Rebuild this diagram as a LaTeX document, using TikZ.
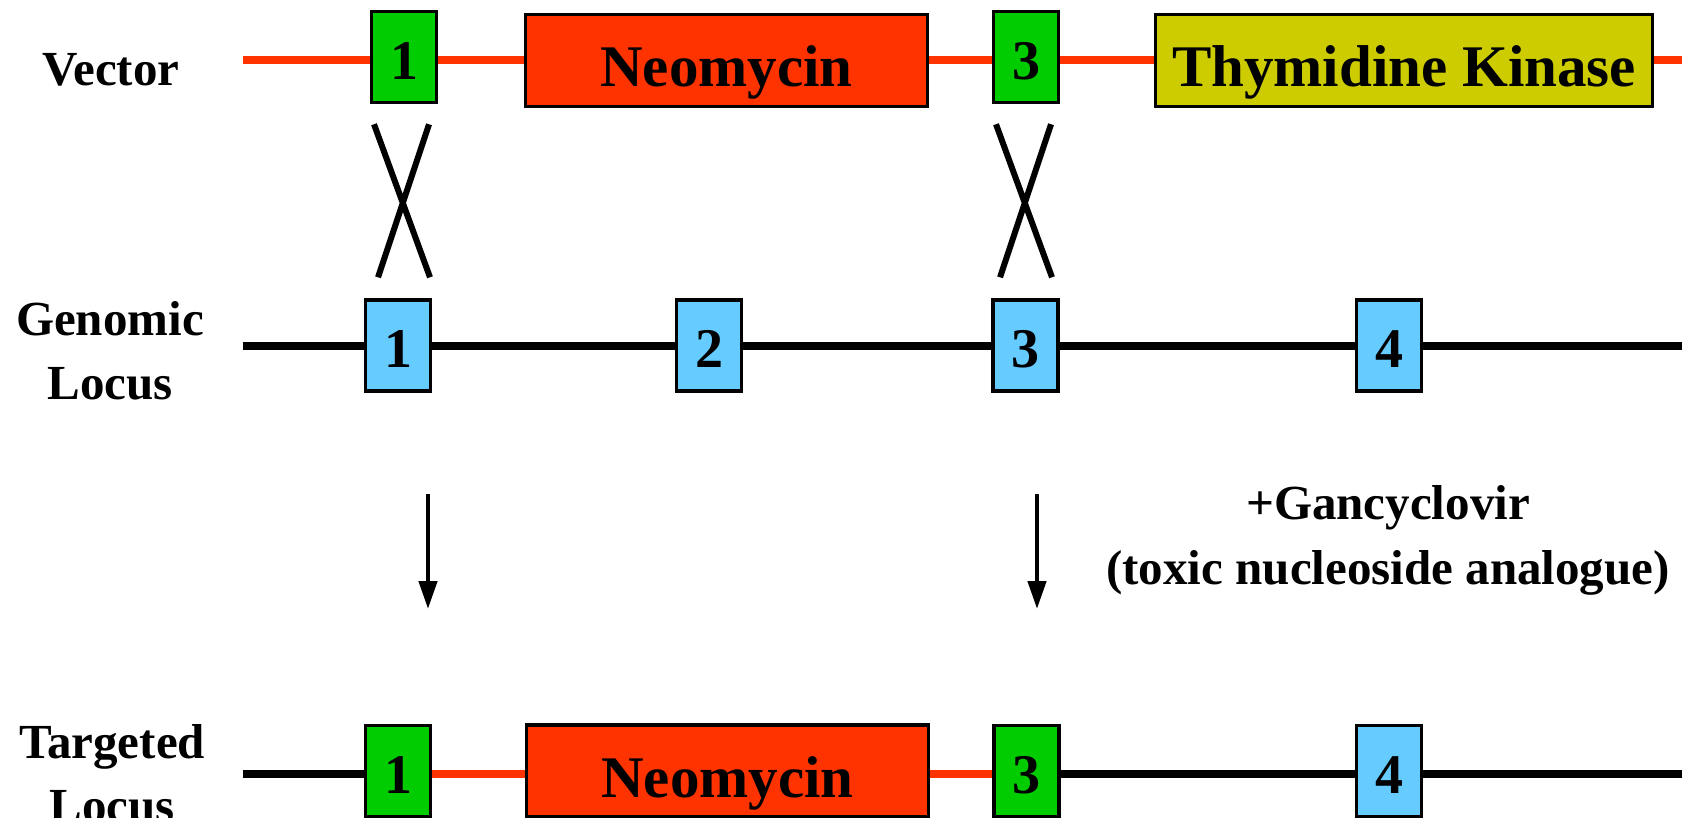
\documentclass[tikz,border=0pt]{standalone}
\usepackage{fontspec}
\setmainfont{Liberation Serif}
\usetikzlibrary{arrows.meta}
\definecolor{exongreen}{HTML}{00CC00}
\definecolor{neored}{HTML}{FF3300}
\definecolor{tkyellow}{HTML}{CCCC00}
\definecolor{exonblue}{HTML}{66CCFF}

\begin{document}
\begin{tikzpicture}[x=1pt,y=-1pt,
  box/.style={draw=black, line width=3.5pt, inner sep=0pt},
  exon/.style={box, minimum width=65pt, minimum height=91pt,
    text height=44pt, text depth=0pt,
    font=\bfseries\fontsize{56}{60}\selectfont},
  greenexon/.style={exon, fill=exongreen},
  blueexon/.style={exon, fill=exonblue},
  cassette/.style={box, minimum height=92pt,
    text height=52pt, text depth=0pt,
    font=\bfseries\fontsize{59}{62}\selectfont},
  neobox/.style={cassette, fill=neored, minimum width=402pt},
  tkbox/.style={cassette, fill=tkyellow, minimum width=497pt},
  rowlabel/.style={anchor=base, inner sep=0pt,
    font=\bfseries\fontsize{49}{65}\selectfont},
  redline/.style={draw=neored, line width=8pt},
  blackline/.style={draw=black, line width=8pt},
  crossline/.style={draw=black, line width=6pt},
  downarrow/.style={draw=black, line width=4.5pt,
    -{Triangle[width=18pt,length=28pt]}},
]
\path[use as bounding box] (0,0) rectangle (1682,817);

% ---- row labels ----
\node[rowlabel] (lvec) at (111,85) {Vector};
\node[rowlabel] (lgen1) at (110,335) {Genomic};
\node[rowlabel] (lgen2) at (110,399) {Locus};
\node[rowlabel] (ltar1) at (112,758) {Targeted};
\node[rowlabel] (ltar2) at (112,822) {Locus};

% ---- targeting vector ----
\coordinate (v0) at (243,60);
\coordinate (v1) at (1682,60);
\draw[redline] (v0) -- (v1);
\node[greenexon] (vg1) at (404,57) {1};
\node[neobox] (vneo) at (726.5,60.5) {Neomycin};
\node[greenexon] (vg3) at (1026,57) {3};
\node[tkbox] (vtk) at (1404,60.5) {Thymidine Kinase};

% ---- genomic locus ----
\coordinate (g0) at (243,346);
\coordinate (g1end) at (1682,346);
\draw[blackline] (g0) -- (g1end);
\node[blueexon] (gb1) at (398,345.5) {1};
\node[blueexon] (gb2) at (709,345.5) {2};
\node[blueexon] (gb3) at (1025.5,345.5) {3};
\node[blueexon] (gb4) at (1389,345.5) {4};

% ---- crossovers between homologous exons ----
\draw[crossline, shift={(vg1.south)}] (-30,20) -- (26,173) (25,20) -- (-26,173);
\draw[crossline, shift={(vg3.south)}] (-30,20) -- (26,173) (25,20) -- (-26,173);

% ---- selection arrows ----
\coordinate (a1s) at (428,494);
\coordinate (a1e) at (428,609);
\coordinate (a2s) at (1037,494);
\coordinate (a2e) at (1037,609);
\draw[downarrow] (a1s) -- (a1e);
\draw[downarrow] (a2s) -- (a2e);
\node[rowlabel] (gan1) at (1388,519) {+Gancyclovir};
\node[rowlabel] (gan2) at (1388,584) {(toxic nucleoside analogue)};

% ---- targeted locus ----
\coordinate (t0) at (243,774);
\coordinate (t1) at (1682,774);
\node[greenexon] (tg1) at (398,771) {1};
\node[neobox] (tneo) at (727.5,771) {Neomycin};
\node[greenexon] (tg3) at (1026.5,771) {3};
\node[blueexon] (tb4) at (1389,771) {4};
\draw[blackline] (t0) -- (t0 -| tg1.west);
\draw[redline] (t0 -| tg1.east) -- (t0 -| tneo.west);
\draw[redline] (t0 -| tneo.east) -- (t0 -| tg3.west);
\draw[blackline] (t0 -| tg3.east) -- (t0 -| tb4.west);
\draw[blackline] (t0 -| tb4.east) -- (t1);
\end{tikzpicture}
\end{document}
